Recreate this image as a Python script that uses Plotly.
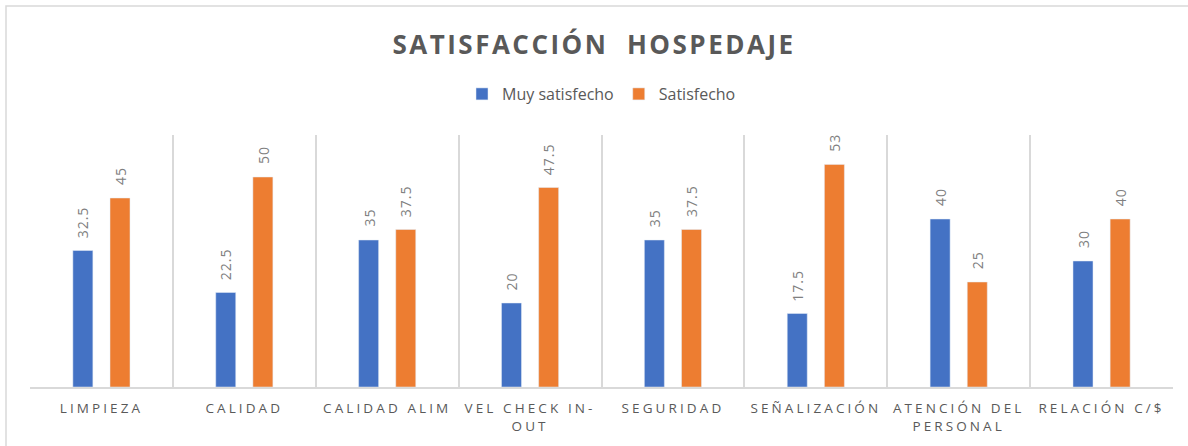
import plotly.graph_objects as go

categories = ["LIMPIEZA", "CALIDAD", "CALIDAD ALIM", "VEL CHECK IN-<br>OUT", "SEGURIDAD",
              "SEÑALIZACIÓN", "ATENCIÓN DEL<br>PERSONAL", "RELACIÓN C/$"]
muy_satisfecho = [32.5, 22.5, 35, 20, 35, 17.5, 40, 30]
satisfecho = [45, 50, 37.5, 47.5, 37.5, 53, 25, 40]

GRAY = "#595959"
W, H = 1188, 446
L, R, T, B = 30, 15, 135, 59
pw, ph = W - L - R, H - T - B

label_font = dict(family="Open Sans", size=14, color="#808080")

fig = go.Figure()
fig.add_trace(go.Bar(
    x=categories, y=muy_satisfecho, name="Muy satisfecho",
    marker_color="#4472C4", width=0.14, offset=-0.2,
))
fig.add_trace(go.Bar(
    x=categories, y=satisfecho, name="Satisfecho",
    marker_color="#ED7D31", width=0.14, offset=0.06,
))

for i, (a, b) in enumerate(zip(muy_satisfecho, satisfecho)):
    for xo, v in ((-0.13, a), (0.13, b)):
        fig.add_annotation(x=i + xo, y=v, text=str(v), showarrow=False, textangle=-90,
                           xanchor="center", yanchor="bottom", yshift=12,
                           font=label_font)

def px_x(p):
    return (p - L) / pw

def px_y(p):
    return (H - B - p) / ph

fig.add_shape(type="rect", xref="paper", yref="paper",
              x0=px_x(6), x1=px_x(1192), y0=px_y(452), y1=px_y(6),
              line=dict(color="#d9d9d9", width=1.5), fillcolor="rgba(0,0,0,0)", layer="below")

fig.update_layout(
    width=W, height=H,
    margin=dict(l=L, r=R, t=T, b=B),
    paper_bgcolor="white", plot_bgcolor="white",
    title=dict(text="<b>SATISFACCIÓN  HOSPEDAJE</b>", x=0.5, xanchor="center",
               y=1 - 45 / H, yanchor="middle",
               font=dict(family="Open Sans", size=26, color=GRAY)),
    legend=dict(orientation="h", x=0.5, xanchor="center", y=px_y(94), yanchor="middle",
                font=dict(family="Open Sans", size=16, color=GRAY),
                itemwidth=30, traceorder="normal"),
    showlegend=True,
    xaxis=dict(type="category", tickson="boundaries", showgrid=True, gridcolor="#d9d9d9",
               gridwidth=1.5, ticks="", showline=True, linecolor="#d9d9d9", linewidth=1.5,
               tickfont=dict(family="Open Sans", size=13.5, color=GRAY), ticklabelstandoff=8,
               range=[-0.5, 7.5]),
    yaxis=dict(range=[0, 60], showgrid=False, showticklabels=False, zeroline=False,
               showline=False, ticks=""),
)

post = """
document.body.style.margin='0';
document.documentElement.style.overflow='hidden';
var gd = document.getElementById('{plot_id}');
function ls(){
  document.querySelectorAll('.xtick text').forEach(function(t){ t.style.letterSpacing='3.1px'; });
  document.querySelectorAll('.gtitle').forEach(function(t){ t.style.letterSpacing='2.5px'; });
  document.querySelectorAll('.annotation-text').forEach(function(t){ t.style.letterSpacing='1px'; });
}
ls();
gd.on('plotly_afterplot', ls);
"""
fig.write_html("out.html", post_script=post, config={"displayModeBar": False})
